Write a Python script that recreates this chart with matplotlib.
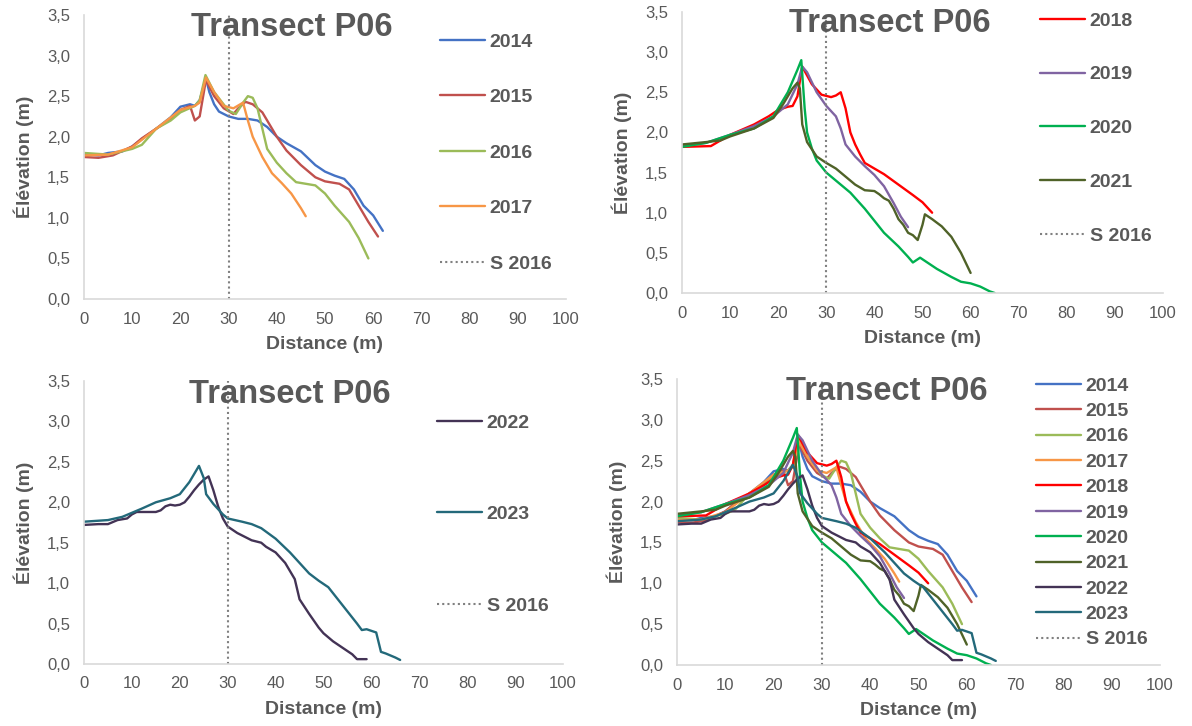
import matplotlib
matplotlib.use("Agg")
import matplotlib.pyplot as plt

plt.rcParams["font.family"] = ["Liberation Sans", "DejaVu Sans"]

GRAY = "#595959"

# -----------------------------
# Profile data (distance m, elevation m)
# -----------------------------
x_2014 = [0, 3, 5, 8, 10, 12, 15, 18, 20, 22, 23, 24, 25.3, 26, 27, 28, 30, 32, 34, 36, 38, 40, 42, 45, 48, 50, 52, 54, 56, 58, 60, 62]
y_2014 = [1.79, 1.77, 1.80, 1.82, 1.88, 1.97, 2.10, 2.24, 2.37, 2.40, 2.38, 2.45, 2.72, 2.55, 2.40, 2.31, 2.25, 2.22, 2.22, 2.20, 2.12, 2.00, 1.92, 1.82, 1.65, 1.57, 1.52, 1.48, 1.35, 1.15, 1.03, 0.84]

x_2015 = [0, 3, 6, 10, 12, 15, 18, 20, 22, 23, 24, 25.3, 27, 29, 31, 32, 33.5, 35, 37, 38, 40, 42, 45, 48, 50, 53, 55, 57, 59, 61]
y_2015 = [1.75, 1.74, 1.77, 1.88, 1.98, 2.10, 2.22, 2.33, 2.38, 2.20, 2.25, 2.70, 2.50, 2.35, 2.28, 2.35, 2.43, 2.40, 2.30, 2.20, 2.00, 1.83, 1.65, 1.50, 1.45, 1.42, 1.35, 1.15, 0.95, 0.77]

x_2016 = [0, 5, 10, 12, 15, 18, 20, 23, 24, 25.2, 27, 30, 31.5, 33, 34, 35, 36, 37, 38, 40, 42, 44, 46, 48, 50, 52, 55, 57, 59]
y_2016 = [1.80, 1.78, 1.85, 1.90, 2.10, 2.20, 2.30, 2.38, 2.45, 2.76, 2.55, 2.32, 2.28, 2.42, 2.50, 2.48, 2.35, 2.10, 1.85, 1.68, 1.55, 1.44, 1.42, 1.40, 1.30, 1.15, 0.95, 0.75, 0.50]

x_2017 = [0, 5, 10, 15, 20, 23, 24, 25.3, 27, 29, 31, 33, 34, 35, 37, 39, 41, 43, 45, 46]
y_2017 = [1.77, 1.78, 1.87, 2.10, 2.33, 2.38, 2.42, 2.73, 2.55, 2.38, 2.35, 2.42, 2.20, 2.00, 1.75, 1.55, 1.43, 1.30, 1.12, 1.02]

x_2018 = [0, 6, 8, 10, 15, 18, 20, 22, 23, 24, 25, 27, 29, 31, 32, 33, 34, 35, 36, 37, 38, 40, 42, 45, 48, 50, 52]
y_2018 = [1.82, 1.83, 1.90, 1.97, 2.10, 2.20, 2.28, 2.32, 2.33, 2.45, 2.82, 2.60, 2.47, 2.44, 2.46, 2.50, 2.30, 2.00, 1.85, 1.73, 1.62, 1.55, 1.48, 1.35, 1.22, 1.13, 1.00]

x_2019 = [0, 5, 10, 15, 19, 22, 24, 25, 26, 28, 30, 32, 33, 34, 36, 38, 40, 42, 44, 45.5, 47]
y_2019 = [1.83, 1.87, 1.97, 2.08, 2.20, 2.35, 2.60, 2.82, 2.75, 2.50, 2.33, 2.20, 2.05, 1.85, 1.70, 1.58, 1.47, 1.33, 1.12, 0.95, 0.82]

x_2020 = [0, 5, 10, 15, 19, 20, 22, 24, 24.8, 25.5, 26, 27, 28, 30, 32, 35, 38, 40, 42, 45, 47, 48, 49.5, 51, 53, 56, 58, 60, 62, 64, 65]
y_2020 = [1.82, 1.87, 1.97, 2.05, 2.20, 2.30, 2.50, 2.78, 2.90, 2.30, 2.00, 1.80, 1.65, 1.50, 1.40, 1.25, 1.05, 0.90, 0.75, 0.58, 0.45, 0.38, 0.44, 0.38, 0.30, 0.20, 0.14, 0.12, 0.08, 0.02, 0.00]

x_2021 = [0, 5, 8, 10, 15, 19, 21, 23, 24, 24.5, 25, 26, 28, 30, 32, 34, 36, 38, 40, 41, 42, 43, 44, 45, 46, 47, 48, 49, 50, 50.5, 52, 54, 56, 58, 60]
y_2021 = [1.85, 1.88, 1.90, 1.95, 2.05, 2.18, 2.35, 2.55, 2.62, 2.55, 2.10, 1.88, 1.70, 1.62, 1.55, 1.45, 1.35, 1.28, 1.27, 1.23, 1.18, 1.15, 1.05, 0.92, 0.85, 0.75, 0.72, 0.66, 0.85, 0.98, 0.92, 0.83, 0.70, 0.50, 0.25]

x_2022 = [0, 3, 5, 7, 9, 10, 11, 15, 16, 17, 18, 19, 20, 21, 22, 23, 24, 25, 26, 27, 28, 29, 30, 32, 35, 37, 38, 40, 42, 44, 45, 47, 49, 50, 52, 54, 56, 57, 59]
y_2022 = [1.72, 1.73, 1.73, 1.78, 1.80, 1.85, 1.88, 1.88, 1.90, 1.95, 1.97, 1.96, 1.97, 2.00, 2.07, 2.15, 2.22, 2.28, 2.32, 2.15, 1.95, 1.80, 1.70, 1.62, 1.53, 1.50, 1.45, 1.38, 1.25, 1.05, 0.80, 0.62, 0.45, 0.38, 0.28, 0.20, 0.12, 0.06, 0.06]

x_2023 = [0, 5, 8, 10, 12, 15, 18, 20, 22, 23, 24, 25, 25.5, 27, 29, 30, 33, 35, 37, 40, 43, 45, 47, 49, 51, 53, 55, 57, 58, 59, 60, 61, 62, 63, 65, 66]
y_2023 = [1.76, 1.78, 1.82, 1.87, 1.92, 2.00, 2.05, 2.10, 2.25, 2.35, 2.45, 2.30, 2.10, 1.98, 1.85, 1.80, 1.76, 1.73, 1.68, 1.55, 1.38, 1.25, 1.12, 1.03, 0.95, 0.80, 0.65, 0.50, 0.42, 0.43, 0.41, 0.39, 0.15, 0.13, 0.08, 0.05]

years = ["2014", "2015", "2016", "2017", "2018", "2019", "2020", "2021", "2022", "2023"]
xs = [x_2014, x_2015, x_2016, x_2017, x_2018, x_2019, x_2020, x_2021, x_2022, x_2023]
ys = [y_2014, y_2015, y_2016, y_2017, y_2018, y_2019, y_2020, y_2021, y_2022, y_2023]
colors = ["#4472C4", "#C0504D", "#9BBB59", "#F79646", "#FF0000",
          "#8064A2", "#00B050", "#4F6228", "#433355", "#23697A"]

shoreline_x = 30   # S 2016
x_ticks = list(range(0, 101, 10))
y_ticks = [0.0, 0.5, 1.0, 1.5, 2.0, 2.5, 3.0, 3.5]

W, H = 1192, 726
fig = plt.figure(figsize=(W / 100, H / 100), dpi=100)


def px_rect(left, right, top, bottom):
    return [left / W, 1 - bottom / H, (right - left) / W, (bottom - top) / H]


def panel(rect, idx, title_xy, leg_xy, labelspacing):
    ax = fig.add_axes(px_rect(*rect))
    for i in idx:
        ax.plot(xs[i], ys[i], color=colors[i], lw=1.7, label=years[i],
                solid_joinstyle="round", solid_capstyle="round")
    ax.axvline(shoreline_x, color="#808080", lw=1.5, ls=(0, (1, 1.5)),
               label="S 2016")
    ax.set_xlim(0, 100)
    ax.set_ylim(0, 3.5)
    ax.set_xticks(x_ticks)
    ax.set_yticks(y_ticks)
    ax.set_yticklabels([f"{v:.1f}".replace(".", ",") for v in y_ticks])
    ax.tick_params(length=0, labelsize=12, colors=GRAY)
    ax.tick_params(axis="x", pad=9)
    ax.tick_params(axis="y", pad=10)
    for s in ["top", "right"]:
        ax.spines[s].set_visible(False)
    for s in ["left", "bottom"]:
        ax.spines[s].set_color("#D9D9D9")
        ax.spines[s].set_linewidth(1.2)
    ax.set_xlabel("Distance (m)", fontsize=14, fontweight="bold", color=GRAY, labelpad=7)
    ax.set_ylabel("Élévation (m)", fontsize=14, fontweight="bold", color=GRAY, labelpad=9)
    fig.text(title_xy[0] / W, 1 - title_xy[1] / H, "Transect P06", fontsize=23.5,
             fontweight="bold", color=GRAY, ha="center", va="center")
    leg = ax.legend(loc="upper left", bbox_to_anchor=(leg_xy[0] / W, 1 - leg_xy[1] / H),
                    bbox_transform=fig.transFigure, frameon=False, borderpad=0,
                    borderaxespad=0, handlelength=2.3, handletextpad=0.25,
                    labelspacing=labelspacing, prop={"size": 14, "weight": "bold"})
    for t in leg.get_texts():
        t.set_color(GRAY)
    return ax


panel((84, 566, 15, 299), [0, 1, 2, 3], (292, 28), (440, 33), 1.95)
panel((682, 1163, 12, 293), [4, 5, 6, 7], (890, 24), (1040, 12), 1.86)
panel((84, 563, 381, 664), [8, 9], (290, 394), (437, 414), 3.8)
panel((677, 1160, 379, 665), list(range(10)), (887, 392), (1036, 377), 0.4)

plt.savefig("out.png", dpi=100)
plt.close()
